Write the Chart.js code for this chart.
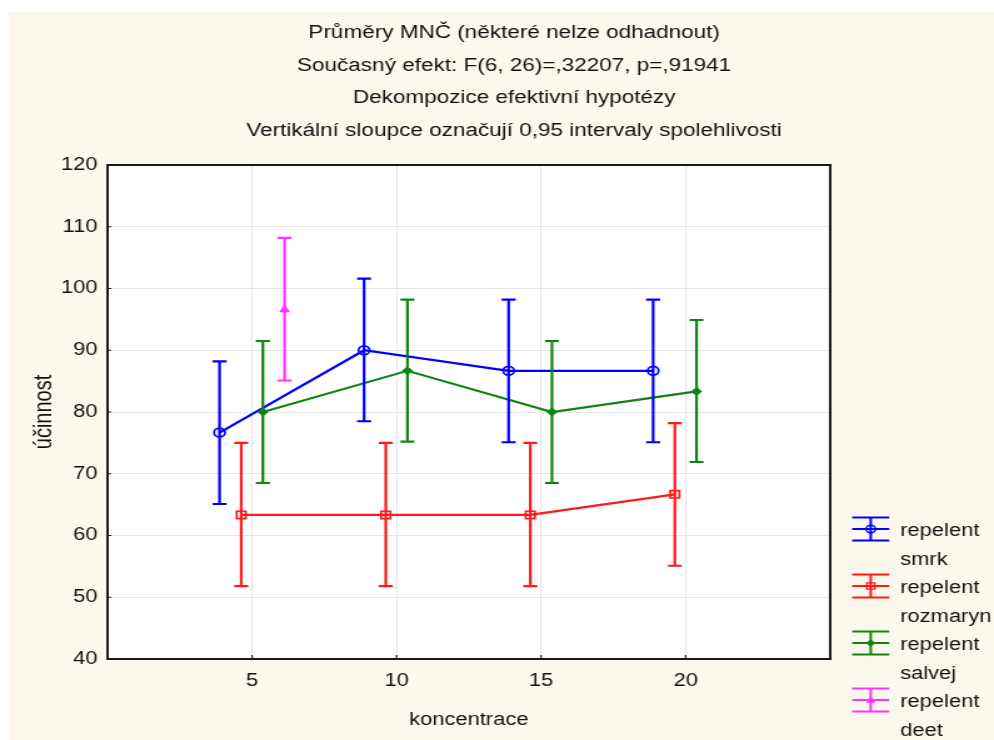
<!DOCTYPE html>
<html>
<head>
<meta charset="utf-8">
<script src="https://cdn.jsdelivr.net/npm/chart.js@4.4.1/dist/chart.umd.min.js"></script>
<style>
  html, body { margin: 0; padding: 0; background: #ffffff; overflow: hidden; }
  #c { display: block; }
</style>
</head>
<body>
<canvas id="c" width="795" height="740" style="width:994px;height:740px;"></canvas>
<script>
// ---------- data ----------
const concentrations = [5, 10, 15, 20];
const xTickValues = [5, 10, 15, 20];
const yTickValues = [40, 50, 60, 70, 80, 90, 100, 110, 120];

const titleLines = [
  'Průměry MNČ (některé nelze odhadnout)',
  'Současný efekt: F(6, 26)=,32207, p=,91941',
  'Dekompozice efektivní hypotézy',
  'Vertikální sloupce označují 0,95 intervaly spolehlivosti'
];
const xAxisTitle = 'koncentrace';
const yAxisTitle = 'účinnost';

const seriesLabels = [
  ['repelent', 'smrk'],
  ['repelent', 'rozmaryn'],
  ['repelent', 'salvej'],
  ['repelent', 'deet']
];

const smrkMean = [76.67, 90.0, 86.67, 86.67];
const smrkLow  = [65.1, 78.5, 75.1, 75.1];
const smrkHigh = [88.2, 101.6, 98.2, 98.2];

const rozmarynMean = [63.33, 63.33, 63.33, 66.67];
const rozmarynLow  = [51.8, 51.8, 51.8, 55.1];
const rozmarynHigh = [75.0, 75.0, 75.0, 78.2];

const salvejMean = [80.0, 86.67, 80.0, 83.33];
const salvejLow  = [68.5, 75.2, 68.5, 71.9];
const salvejHigh = [91.5, 98.2, 91.5, 94.9];

const deetMean = [96.67];
const deetLow  = [85.1];
const deetHigh = [108.2];

// ---------- styling / layout ----------
const FONT = '"Liberation Sans", Arial, Helvetica, sans-serif';
const FS = 17.5;
const TFS = 18;
const styles = [
  { color: '#0000ff', marker: 'circle',   r: 4.4, fill: false, offset: -1.125 },
  { color: '#ff1a1a', marker: 'square',   r: 3.7, fill: false, offset: -0.375 },
  { color: '#0f850f', marker: 'diamond',  r: 3.3, fill: true,  offset: 0.375 },
  { color: '#ff33ff', marker: 'triangle', r: 3,   fill: false, offset: 1.125 }
];
const means = [smrkMean, rozmarynMean, salvejMean, deetMean];
const lows  = [smrkLow, rozmarynLow, salvejLow, deetLow];
const highs = [smrkHigh, rozmarynHigh, salvejHigh, deetHigh];

function drawMarker(ctx, type, x, y, r, color, fill, lw) {
  ctx.save();
  ctx.strokeStyle = color;
  ctx.fillStyle = color;
  ctx.lineWidth = lw;
  ctx.beginPath();
  if (type === 'circle') {
    ctx.arc(x, y, r, 0, Math.PI * 2);
  } else if (type === 'square') {
    ctx.rect(x - r, y - r, 2 * r, 2 * r);
  } else if (type === 'diamond') {
    ctx.moveTo(x, y - r); ctx.lineTo(x + r, y); ctx.lineTo(x, y + r); ctx.lineTo(x - r, y); ctx.closePath();
  } else if (type === 'triangle') {
    ctx.moveTo(x, y - r); ctx.lineTo(x + r, y + r * 0.8); ctx.lineTo(x - r, y + r * 0.8); ctx.closePath();
  }
  if (fill) ctx.fill();
  ctx.stroke();
  ctx.restore();
}

const datasets = means.map((m, s) => ({
  label: seriesLabels[s].join(' '),
  data: m.map((v, i) => ({ x: concentrations[i] + styles[s].offset, y: v })),
  borderColor: styles[s].color,
  backgroundColor: styles[s].color,
  borderWidth: 2.2,
  pointRadius: 0,
  pointHoverRadius: 0,
  showLine: true,
  tension: 0
}));

const bgPlugin = {
  id: 'bg',
  beforeDraw(chart) {
    const ctx = chart.ctx;
    const a = chart.chartArea;
    ctx.save();
    ctx.fillStyle = '#ffffff';
    ctx.fillRect(0, 0, chart.width, chart.height);
    ctx.fillStyle = '#fcf8ee';
    ctx.fillRect(7.2, 12, chart.width - 7.2, chart.height - 12);
    ctx.fillStyle = '#ffffff';
    ctx.fillRect(a.left, a.top, a.right - a.left, a.bottom - a.top);
    ctx.restore();
  }
};

const errPlugin = {
  id: 'errbars',
  afterDatasetsDraw(chart) {
    const ctx = chart.ctx;
    const xs = chart.scales.x, ys = chart.scales.y;
    ctx.save();
    means.forEach((m, s) => {
      const st = styles[s];
      m.forEach((v, i) => {
        const px = xs.getPixelForValue(concentrations[i] + st.offset);
        const py = ys.getPixelForValue(v);
        const yl = ys.getPixelForValue(lows[s][i]);
        const yh = ys.getPixelForValue(highs[s][i]);
        ctx.strokeStyle = st.color;
        ctx.lineWidth = 2.2;
        ctx.beginPath();
        ctx.moveTo(px, yl); ctx.lineTo(px, yh);
        ctx.moveTo(px - 5.6, yl); ctx.lineTo(px + 5.6, yl);
        ctx.moveTo(px - 5.6, yh); ctx.lineTo(px + 5.6, yh);
        ctx.stroke();
        drawMarker(ctx, st.marker, px, py, st.r, st.color, st.fill, 1.7);
      });
    });
    ctx.restore();
  }
};

const framePlugin = {
  id: 'frame',
  afterDraw(chart) {
    const ctx = chart.ctx;
    const a = chart.chartArea;
    const xs = chart.scales.x, ys = chart.scales.y;
    ctx.save();
    // ticks (inside)
    ctx.strokeStyle = '#222';
    ctx.lineWidth = 1.2;
    ctx.beginPath();
    yTickValues.forEach(v => {
      const py = ys.getPixelForValue(v);
      ctx.moveTo(a.left, py); ctx.lineTo(a.left + 3, py);
    });
    xTickValues.forEach(v => {
      const px = xs.getPixelForValue(v);
      ctx.moveTo(px, a.bottom); ctx.lineTo(px, a.bottom - 4);
    });
    ctx.stroke();
    // frame
    ctx.strokeStyle = '#1a1a1a';
    ctx.lineWidth = 2;
    ctx.strokeRect(a.left, a.top, a.right - a.left, a.bottom - a.top);

    // titles
    ctx.fillStyle = '#111';
    ctx.font = TFS + 'px ' + FONT;
    ctx.textAlign = 'center';
    ctx.textBaseline = 'alphabetic';
    const tb = [37.5, 70.5, 103, 136];
    titleLines.forEach((t, i) => ctx.fillText(t, 411.2, tb[i]));

    // legend
    ctx.font = FS + 'px ' + FONT;
    const lc = [529, 586, 643, 700];
    const x1 = 681.6, x2 = 711.2, xc = 696.4;
    ctx.textAlign = 'left';
    seriesLabels.forEach((lab, s) => {
      const st = styles[s];
      const cy = lc[s];
      ctx.strokeStyle = st.color;
      ctx.lineWidth = 2;
      ctx.beginPath();
      ctx.moveTo(x1, cy - 11.5); ctx.lineTo(x2, cy - 11.5);
      ctx.moveTo(x1, cy); ctx.lineTo(x2, cy);
      ctx.moveTo(x1, cy + 11.5); ctx.lineTo(x2, cy + 11.5);
      ctx.moveTo(xc, cy - 11.5); ctx.lineTo(xc, cy + 11.5);
      ctx.stroke();
      drawMarker(ctx, st.marker, xc, cy, st.r * 0.85, st.color, st.fill, 1.4);
      ctx.fillStyle = '#111';
      ctx.fillText(lab[0], 720, cy + 7);
      ctx.fillText(lab[1], 720, cy + 35.5);
    });
    ctx.restore();
  }
};

Chart.defaults.color = '#111';
Chart.defaults.font.family = FONT;
Chart.defaults.font.size = FS;

new Chart(document.getElementById('c'), {
  type: 'line',
  data: { datasets },
  plugins: [bgPlugin, errPlugin, framePlugin],
  options: {
    responsive: false,
    animation: false,
    devicePixelRatio: 1,
    layout: { padding: { top: 165, right: 131, bottom: 0, left: 0 } },
    plugins: { legend: { display: false }, title: { display: false }, tooltip: { enabled: false } },
    scales: {
      x: {
        type: 'linear',
        min: 0, max: 25,
        afterFit(scale) { scale.height = 81; },
        afterBuildTicks(scale) { scale.ticks = xTickValues.map(v => ({ value: v })); },
        ticks: { padding: 12, font: { size: FS }, color: '#111', callback: v => String(v) },
        grid: { color: '#e6e6e6', lineWidth: 1, drawTicks: false },
        border: { display: false },
        title: { display: true, text: xAxisTitle, font: { size: FS }, color: '#111', padding: { top: 0, bottom: 9.5 } }
      },
      y: {
        type: 'linear',
        min: 40, max: 120,
        afterFit(scale) { scale.width = 86; },
        afterBuildTicks(scale) { scale.ticks = yTickValues.map(v => ({ value: v })); },
        ticks: { padding: 8, font: { size: FS }, color: '#111' },
        grid: { color: '#e6e6e6', lineWidth: 1, drawTicks: false },
        border: { display: false },
        title: { display: true, text: yAxisTitle, font: { size: 20 }, color: '#111', padding: { top: 23, bottom: 0 } }
      }
    }
  }
});
</script>
</body>
</html>
